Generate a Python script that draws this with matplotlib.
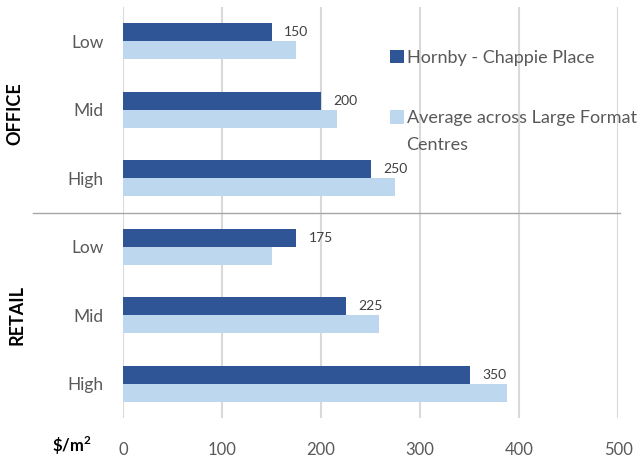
import numpy as np
import matplotlib.pyplot as plt
import matplotlib.transforms as mtransforms

plt.rcParams['font.family'] = ['Lato', 'DejaVu Sans']
plt.rcParams['mathtext.fontset'] = 'custom'
plt.rcParams['mathtext.rm'] = 'Lato'
plt.rcParams['mathtext.bf'] = 'Lato:bold'

# rows top to bottom: OFFICE Low/Mid/High, RETAIL Low/Mid/High
levels = ['Low', 'Mid', 'High', 'Low', 'Mid', 'High']
groups = ['OFFICE', 'RETAIL']
hornby = [150, 200, 250, 175, 225, 350]
average = [175, 216, 275, 150, 258, 388]
x_ticks = [0, 100, 200, 300, 400, 500]

dark = '#2f5597'
light = '#bdd7ee'
grey_txt = '#595959'

fig = plt.figure(figsize=(6.44, 4.59), dpi=100)
ax = fig.add_axes([0.191, 0.0893, 0.769, 0.8954])

n = len(levels)
y = np.arange(n)[::-1]          # first row at the top
h = 0.2625

b1 = ax.barh(y + h / 2, hornby, height=h, color=dark, zorder=3,
             label='Hornby - Chappie Place')
b2 = ax.barh(y - h / 2, average, height=h, color=light, zorder=3,
             label='Average across Large Format')

for yy, v in zip(y, hornby):
    ax.annotate(str(v), (v, yy + h / 2), xytext=(9, 0), textcoords='offset points',
                va='center', ha='left', fontsize=10, color='#404040')

ax.set_xlim(0, 500)
ax.set_ylim(-0.5, n - 0.5)
ax.set_xticks(x_ticks)
ax.set_xticklabels([str(t) for t in x_ticks])
ax.set_yticks(y)
ax.set_yticklabels(levels)
ax.tick_params(axis='both', length=0, colors=grey_txt, labelsize=12)
ax.tick_params(axis='y', labelsize=12.5, pad=14)
ax.tick_params(axis='x', pad=17)
ax.grid(axis='x', color='#d9d9d9', linewidth=1.5, zorder=0)
for s in ax.spines.values():
    s.set_visible(False)

# separator between the two groups
trans = mtransforms.blended_transform_factory(fig.transFigure, ax.transData)
ax.plot([0.051, 0.963], [2.5, 2.5], color='#a6a6a6', linewidth=1,
        transform=trans, clip_on=False, zorder=4)

fig.text(0.023, 1 - 114 / 459, groups[0], rotation=90, ha='center', va='center',
         fontsize=13, fontweight='bold', color='black')
fig.text(0.027, 1 - 315 / 459, groups[1], rotation=90, ha='center', va='center',
         fontsize=13, fontweight='bold', color='black')
fig.text(72 / 644, 1 - 446 / 459, r'\$/m$^{\mathbf{2}}$', ha='center', va='center',
         fontsize=12, fontweight='bold', color='black')

fig.legend(handles=[b1, b2], loc='upper left', bbox_to_anchor=(381 / 644, 1 - 41 / 459),
           frameon=False, fontsize=13, labelcolor=grey_txt, handlelength=0.75,
           handleheight=0.75, handletextpad=0.2, labelspacing=2.45, borderpad=0)
fig.text(406 / 644, 1 - 145 / 459, 'Centres', ha='left', va='center',
         fontsize=13, color=grey_txt)

fig.savefig('out.png', dpi=100)
